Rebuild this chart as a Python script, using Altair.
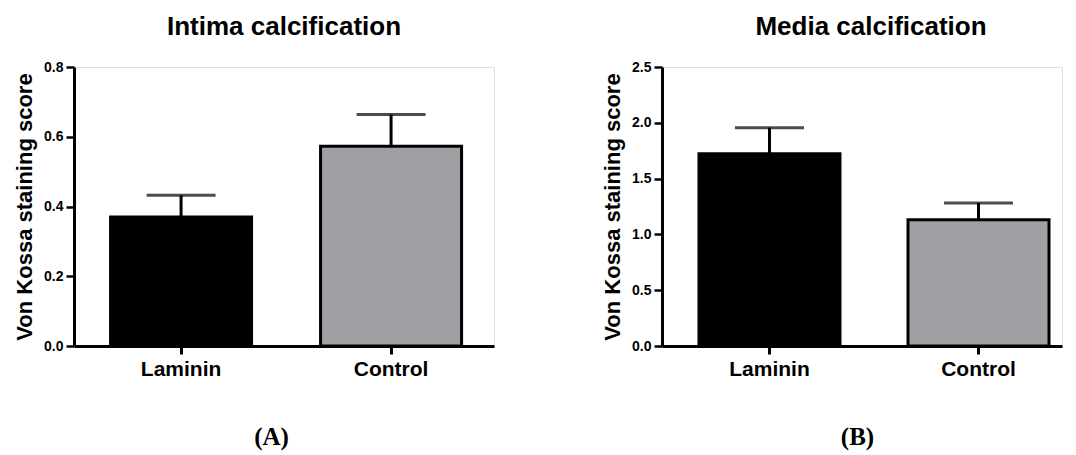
import altair as alt
import pandas as pd

groups = ["Laminin", "Control"]
fills = ["#000000", "#a19fa4"]

intima_mean = [0.370, 0.573]
intima_upper = [0.432, 0.664]
media_mean = [1.722, 1.132]
media_upper = [1.956, 1.282]

intima_ticks = [0.0, 0.2, 0.4, 0.6, 0.8]
media_ticks = [0.0, 0.5, 1.0, 1.5, 2.0, 2.5]

FONT = "Liberation Sans"


def panel(mean, upper, ymax, yticks, title, letter, width, pin, pout, align,
          title_dx, letter_x):
    df = pd.DataFrame({"group": groups, "mean": mean, "upper": upper, "fill": fills})
    xscale = alt.Scale(paddingInner=pin, paddingOuter=pout, align=align)
    xaxis = alt.Axis(
        title=letter, labelAngle=0, labelFont=FONT, labelFontSize=21,
        labelFontWeight="bold", labelColor="black", labelPadding=4,
        tickSize=8, tickWidth=3, tickColor="black",
        domainWidth=3, domainColor="black",
        titleFont="Liberation Serif", titleFontSize=25, titleFontWeight="bold",
        titleColor="black", titleX=letter_x, titleY=90, titleAlign="center",
        titleBaseline="middle", titleAngle=0,
    )
    yscale = alt.Scale(domain=[0, ymax], nice=False, zero=True)
    yaxis = alt.Axis(
        title="Von Kossa staining score", values=yticks, format=".1f",
        labelFont=FONT, labelFontSize=14, labelFontWeight="bold", labelColor="black",
        labelPadding=3, tickSize=8, tickWidth=2.5, tickColor="black",
        domainWidth=3, domainColor="black", grid=False,
        titleFont=FONT, titleFontSize=22, titleFontWeight="bold", titleColor="black",
        titlePadding=7,
    )
    base = alt.Chart(df)
    x = alt.X("group:N", sort=groups, scale=xscale, axis=xaxis)
    bars = base.mark_bar(stroke="black", strokeWidth=3).encode(
        x=x,
        y=alt.Y("mean:Q", scale=yscale, axis=yaxis),
        fill=alt.Fill("fill:N", scale=None, legend=None),
    )
    rule = base.mark_rule(color="black", strokeWidth=3).encode(
        x=alt.X("group:N", sort=groups),
        y=alt.Y("mean:Q"),
        y2="upper:Q",
    )
    cap = base.mark_tick(color="black", thickness=3, size=69).encode(
        x=alt.X("group:N", sort=groups),
        y=alt.Y("upper:Q"),
    )
    return alt.layer(bars, rule, cap).properties(
        width=width, height=279,
        title=alt.TitleParams(
            text=title, dx=title_dx, font=FONT, fontSize=26, fontWeight="bold",
            color="black", anchor="middle", baseline="alphabetic", offset=-1,
        ),
    )


left = panel(intima_mean, intima_upper, 0.8, intima_ticks, "Intima calcification",
             "(A)", 420, 0.3286, 0.1643, 0.53, 0, 197)
right = panel(media_mean, media_upper, 2.5, media_ticks, "Media calcification",
              "(B)", 400, 0.3254, 0.1196, 0.74, 9, 195)

chart = alt.hconcat(left, right, spacing=106).configure_view(
    stroke=None
).configure(background="white")

chart.save("out.html", embed_options={"renderer": "svg", "actions": False})
